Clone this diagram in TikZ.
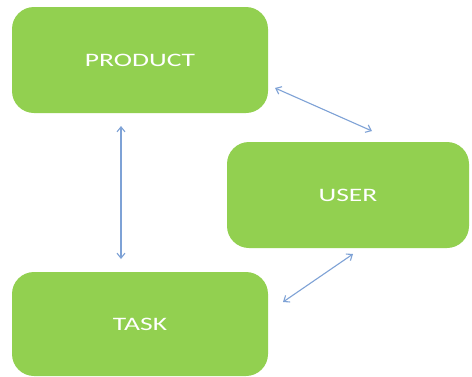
\documentclass[tikz,border=0pt]{standalone}
\usepackage{fontspec}
\setmainfont{Carlito}
\usetikzlibrary{arrows.meta}
\definecolor{boxgreen}{HTML}{92D050}
\definecolor{linkblue}{HTML}{7EA2D6}
\tikzset{
  block/.style={draw=none, fill=boxgreen, rounded corners=22pt, inner sep=0pt,
    text=white, font=\fontsize{19}{22}\selectfont},
  link/.style={draw=linkblue, line width=1.1pt,
    {Straight Barb[length=5pt,width=8pt]}-{Straight Barb[length=5pt,width=8pt]}}
}
\newcommand{\wide}[1]{\scalebox{1.45}[1]{#1}}
\begin{document}
\begin{tikzpicture}[x=1pt,y=-1pt]
  \useasboundingbox[fill=white] (0,0) rectangle (472,376);
  % the three entities
  \node[block, minimum width=256pt, minimum height=106pt] (product) at (140,60) {\wide{PRODUCT}};
  \node[block, minimum width=242pt, minimum height=106pt] (user) at (348,195) {\wide{USER}};
  \node[block, minimum width=256pt, minimum height=104pt] (task) at (140,324) {\wide{TASK}};
  % end points of the relations
  \coordinate (pt) at (121,126);
  \coordinate (tp) at (121,259);
  \coordinate (pu) at (275,88);
  \coordinate (up) at (372,131);
  \coordinate (ut) at (353,254);
  \coordinate (tu) at (283,302);
  \draw[link] (pt) -- (tp);
  \draw[link] (pu) -- (up);
  \draw[link] (ut) -- (tu);
\end{tikzpicture}
\end{document}
